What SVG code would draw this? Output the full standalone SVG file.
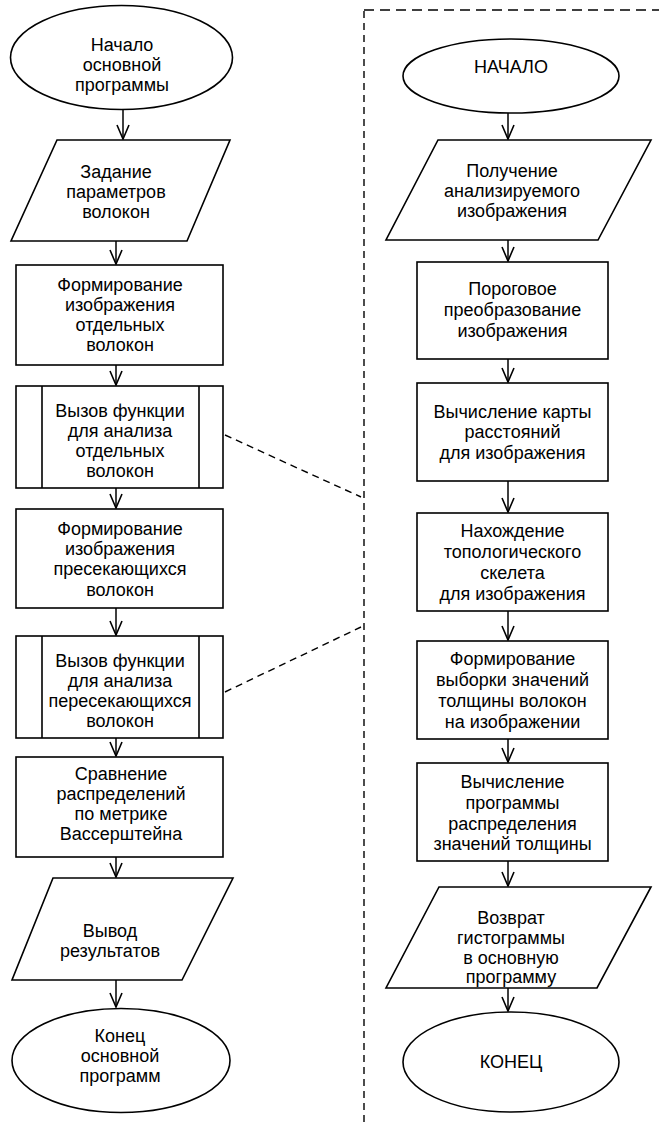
<svg xmlns="http://www.w3.org/2000/svg" width="659" height="1122" viewBox="0 0 659 1122">
  <style>
    .shape { fill: #fff; stroke: #000; stroke-width: 1.6; }
    .inner { stroke: #000; stroke-width: 1.6; fill: none; }
    .lbl { font-family: "Liberation Sans", Arial, sans-serif; font-size: 18px; fill: #000; text-anchor: middle; }
    .flow { stroke: #000; stroke-width: 1.5; fill: none; marker-end: url(#vhead); }
    .dash { stroke: #000; stroke-width: 1.4; fill: none; stroke-dasharray: 7 5; }
    .dash-h { stroke: #000; stroke-width: 1.4; fill: none; stroke-dasharray: 10 6; }
  </style>
  <defs>
    <marker id="vhead" viewBox="0 0 16 14" refX="15" refY="7" markerWidth="16" markerHeight="14" markerUnits="userSpaceOnUse" orient="auto">
      <path d="M1,1 L15,7 L1,13" fill="none" stroke="#000" stroke-width="1.6"/>
    </marker>
  </defs>
  <rect width="659" height="1122" fill="#fff"/>

  <!-- connectors -->
  <g id="connectors">
    <path class="flow" d="M123,110 V139"/>
    <path class="flow" d="M116,241 V264"/>
    <path class="flow" d="M116,365 V385"/>
    <path class="flow" d="M116,488 V508"/>
    <path class="flow" d="M116,608 V635"/>
    <path class="flow" d="M116,738 V756"/>
    <path class="flow" d="M116,857 V877"/>
    <path class="flow" d="M116,980 V1007"/>

    <path class="flow" d="M508,113 V139"/>
    <path class="flow" d="M508,240 V261"/>
    <path class="flow" d="M508,359 V382"/>
    <path class="flow" d="M508,481 V512"/>
    <path class="flow" d="M508,611 V640"/>
    <path class="flow" d="M508,739 V762"/>
    <path class="flow" d="M508,861 V886"/>
    <path class="flow" d="M508,988 V1011"/>

    <!-- subroutine frame and call links -->
    <path class="dash" d="M364,1122 V10"/>
    <path class="dash-h" d="M364,10 H659"/>
    <path class="dash" d="M225,435 L361,497"/>
    <path class="dash" d="M225,692 L361,627"/>
  </g>

  <!-- main program -->
  <g id="main-start">
    <ellipse class="shape" cx="121.5" cy="57.5" rx="111" ry="52"/>
    <text class="lbl" x="122" y="51">Начало</text>
    <text class="lbl" x="122" y="71">основной</text>
    <text class="lbl" x="122" y="91">программы</text>
  </g>
  <g id="main-params">
    <polygon class="shape" points="57,140 230,140 187,241 11,241"/>
    <text class="lbl" x="116" y="178">Задание</text>
    <text class="lbl" x="116" y="198">параметров</text>
    <text class="lbl" x="116" y="218">волокон</text>
  </g>
  <g id="main-single-image">
    <rect class="shape" x="16" y="265" width="207" height="100"/>
    <text class="lbl" x="120" y="291">Формирование</text>
    <text class="lbl" x="120" y="311">изображения</text>
    <text class="lbl" x="120" y="331">отдельных</text>
    <text class="lbl" x="120" y="351">волокон</text>
  </g>
  <g id="main-call-single">
    <rect class="shape" x="16" y="386" width="207" height="102"/>
    <path class="inner" d="M42,386 V488 M199,386 V488"/>
    <text class="lbl" x="120" y="417">Вызов функции</text>
    <text class="lbl" x="120" y="437">для анализа</text>
    <text class="lbl" x="120" y="457">отдельных</text>
    <text class="lbl" x="120" y="477">волокон</text>
  </g>
  <g id="main-cross-image">
    <rect class="shape" x="16" y="509" width="207" height="99"/>
    <text class="lbl" x="120" y="535">Формирование</text>
    <text class="lbl" x="120" y="555">изображения</text>
    <text class="lbl" x="120" y="575">пресекающихся</text>
    <text class="lbl" x="120" y="596">волокон</text>
  </g>
  <g id="main-call-cross">
    <rect class="shape" x="16" y="636" width="207" height="102"/>
    <path class="inner" d="M42,636 V738 M199,636 V738"/>
    <text class="lbl" x="120" y="667">Вызов функции</text>
    <text class="lbl" x="120" y="687">для анализа</text>
    <text class="lbl" x="120" y="707">пересекающихся</text>
    <text class="lbl" x="120" y="727">волокон</text>
  </g>
  <g id="main-compare">
    <rect class="shape" x="16" y="757" width="207" height="100"/>
    <text class="lbl" x="121" y="780">Сравнение</text>
    <text class="lbl" x="121" y="800">распределений</text>
    <text class="lbl" x="121" y="820">по метрике</text>
    <text class="lbl" x="121" y="840">Вассерштейна</text>
  </g>
  <g id="main-output">
    <polygon class="shape" points="53,878 233,878 182,980 12,980"/>
    <text class="lbl" x="110" y="937">Вывод</text>
    <text class="lbl" x="110" y="957">результатов</text>
  </g>
  <g id="main-end">
    <ellipse class="shape" cx="121" cy="1060.5" rx="109" ry="52"/>
    <text class="lbl" x="120" y="1042">Конец</text>
    <text class="lbl" x="120" y="1062">основной</text>
    <text class="lbl" x="120" y="1082">программ</text>
  </g>

  <!-- analysis function -->
  <g id="fn-start">
    <ellipse class="shape" cx="511" cy="76" rx="108" ry="37"/>
    <text class="lbl" x="511" y="73">НАЧАЛО</text>
  </g>
  <g id="fn-input">
    <polygon class="shape" points="438,140 651,140 598,240 386,240"/>
    <text class="lbl" x="512" y="177">Получение</text>
    <text class="lbl" x="512" y="197">анализируемого</text>
    <text class="lbl" x="512" y="217">изображения</text>
  </g>
  <g id="fn-threshold">
    <rect class="shape" x="417" y="262" width="191" height="97"/>
    <text class="lbl" x="512.5" y="295">Пороговое</text>
    <text class="lbl" x="512.5" y="316">преобразование</text>
    <text class="lbl" x="512.5" y="337">изображения</text>
  </g>
  <g id="fn-distance">
    <rect class="shape" x="417" y="383" width="191" height="98"/>
    <text class="lbl" x="512.5" y="418">Вычисление карты</text>
    <text class="lbl" x="512.5" y="438">расстояний</text>
    <text class="lbl" x="512.5" y="459">для изображения</text>
  </g>
  <g id="fn-skeleton">
    <rect class="shape" x="417" y="513" width="191" height="98"/>
    <text class="lbl" x="512.5" y="537">Нахождение</text>
    <text class="lbl" x="512.5" y="558">топологического</text>
    <text class="lbl" x="512.5" y="579">скелета</text>
    <text class="lbl" x="512.5" y="600">для изображения</text>
  </g>
  <g id="fn-sample">
    <rect class="shape" x="417" y="641" width="191" height="98"/>
    <text class="lbl" x="512.5" y="665">Формирование</text>
    <text class="lbl" x="512.5" y="686">выборки значений</text>
    <text class="lbl" x="512.5" y="707">толщины волокон</text>
    <text class="lbl" x="512.5" y="728">на изображении</text>
  </g>
  <g id="fn-histogram">
    <rect class="shape" x="417" y="763" width="191" height="98"/>
    <text class="lbl" x="512.5" y="788">Вычисление</text>
    <text class="lbl" x="512.5" y="809">программы</text>
    <text class="lbl" x="512.5" y="830">распределения</text>
    <text class="lbl" x="512.5" y="850">значений толщины</text>
  </g>
  <g id="fn-return">
    <polygon class="shape" points="439,887 651,887 597,988 386,988"/>
    <text class="lbl" x="511" y="924">Возврат</text>
    <text class="lbl" x="511" y="944">гистограммы</text>
    <text class="lbl" x="511" y="964">в основную</text>
    <text class="lbl" x="511" y="983">программу</text>
  </g>
  <g id="fn-end">
    <ellipse class="shape" cx="511" cy="1062" rx="108" ry="50"/>
    <text class="lbl" x="511" y="1068">КОНЕЦ</text>
  </g>
</svg>
